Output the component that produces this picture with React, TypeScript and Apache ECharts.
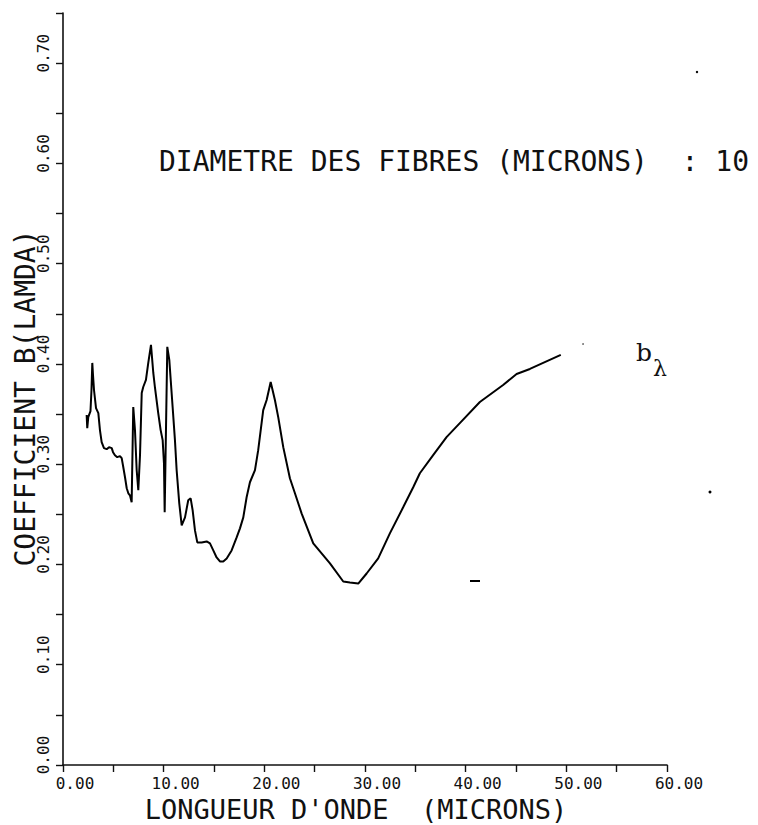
import React, { useEffect, useRef } from "react";
import * as echarts from "echarts";

// Wavelength (microns)
const waveLength = [
  2.35, 2.41, 2.51, 2.73, 2.83, 2.91, 2.98, 3.08, 3.28, 3.51, 3.67, 3.84, 4.07, 4.34, 4.57, 4.84,
  4.97, 5.16, 5.39, 5.66, 5.83, 5.99, 6.16, 6.33, 6.49, 6.65, 6.82, 6.98, 7.15, 7.32, 7.48, 7.65,
  7.82, 7.97, 8.24, 8.47, 8.74, 8.97, 9.14, 9.46, 9.7, 9.9, 10.03, 10.1, 10.36, 10.56, 10.7, 10.89,
  11.12, 11.29, 11.55, 11.79, 12.12, 12.44, 12.68, 12.88, 13.11, 13.34, 13.77, 14.27, 14.6, 14.93,
  15.26, 15.59, 15.92, 16.26, 16.75, 17.25, 17.58, 17.91, 18.24, 18.57, 19.07, 19.39, 19.89, 20.23,
  20.63, 21.05, 21.38, 21.88, 22.54, 23.04, 23.7, 24.86, 26.52, 27.84, 28.5, 29.33, 30.16, 31.31,
  32.47, 33.79, 34.79, 35.45, 36.77, 38.1, 39.42, 41.41, 43.72, 45.06, 46.38, 49.45,
];
// Coefficient b(lambda)
const coefficient = [
  0.349, 0.336, 0.347, 0.353, 0.374, 0.401, 0.389, 0.374, 0.356, 0.351, 0.334, 0.322, 0.316, 0.315,
  0.317, 0.316, 0.312, 0.309, 0.307, 0.308, 0.306, 0.297, 0.287, 0.276, 0.271, 0.269, 0.262, 0.357,
  0.334, 0.294, 0.274, 0.309, 0.371, 0.377, 0.384, 0.401, 0.419, 0.391, 0.376, 0.351, 0.334, 0.324,
  0.301, 0.252, 0.417, 0.404, 0.384, 0.357, 0.324, 0.294, 0.261, 0.239, 0.247, 0.264, 0.266, 0.254,
  0.234, 0.222, 0.222, 0.223, 0.221, 0.214, 0.207, 0.203, 0.203, 0.206, 0.214, 0.227, 0.236, 0.247,
  0.267, 0.282, 0.294, 0.314, 0.354, 0.364, 0.382, 0.364, 0.347, 0.317, 0.286, 0.271, 0.251, 0.221,
  0.201, 0.183, 0.182, 0.181, 0.191, 0.206, 0.231, 0.257, 0.277, 0.291, 0.309, 0.327, 0.341, 0.362,
  0.379, 0.39, 0.395, 0.409,
];

const xRange = [0, 60];
const xTickStep = 5;
const xLabelStep = 10;
const yRange = [0, 0.75];
const yTickStep = 0.05;
const yLabelStep = 0.1;

const chartTitle = "DIAMETRE DES FIBRES (MICRONS)  : 10";
const xAxisName = "LONGUEUR D'ONDE  (MICRONS)";
const yAxisName = "COEFFICIENT B(LAMDA)";
const seriesLabel = "b";
const seriesSub = "λ";

const MONO = "'DejaVu Sans Mono', monospace";
const INK = "#111";

export default function App() {
  const ref = useRef<HTMLDivElement>(null);
  useEffect(() => {
    if (!ref.current) return;
    const chart = echarts.init(ref.current, null, { renderer: "svg" });
    const data = waveLength.map((x, i) => [x, coefficient[i]]);
    const isMultiple = (v: number, step: number) => {
      const r = v / step;
      return Math.abs(r - Math.round(r)) < 1e-6;
    };
    chart.setOption({
      animation: false,
      backgroundColor: "#fff",
      title: {
        text: chartTitle,
        left: 154,
        top: 142,
        textStyle: { fontFamily: MONO, fontSize: 28, fontWeight: "normal", color: INK },
      },
      grid: { left: 63, right: 91, top: 13, bottom: 60, containLabel: false, outerBoundsMode: "none" },
      xAxis: {
        type: "value",
        min: xRange[0],
        max: xRange[1],
        interval: xTickStep,
        splitLine: { show: false },
        axisLine: { show: true, onZero: false, lineStyle: { color: INK, width: 1.6 } },
        axisTick: { show: true, inside: false, length: 7, lineStyle: { color: INK, width: 1.4 } },
        axisLabel: {
          margin: 11,
          fontFamily: MONO,
          fontSize: 16,
          lineHeight: 14,
          color: INK,
          padding: [0, 0, 0, 24],
          formatter: (v: number) => (isMultiple(v, xLabelStep) ? v.toFixed(2) : ""),
        },
      },
      yAxis: {
        type: "value",
        min: yRange[0],
        max: yRange[1],
        interval: yTickStep,
        splitLine: { show: false },
        axisLine: { show: true, onZero: false, lineStyle: { color: INK, width: 1.6 } },
        axisTick: { show: true, inside: false, length: 7, lineStyle: { color: INK, width: 1.4 } },
        axisLabel: {
          rotate: 90,
          margin: 12,
          fontFamily: MONO,
          fontSize: 16,
          color: INK,
          padding: [0, 0, 0, 20],
          showMaxLabel: true,
          formatter: (v: number) => (isMultiple(v, yLabelStep) ? v.toFixed(2) : ""),
        },
      },
      series: [
        {
          type: "line",
          data,
          symbol: "none",
          smooth: false,
          lineStyle: { color: "#000", width: 2 },
        },
      ],
      graphic: [
        {
          type: "text",
          x: 356,
          y: 809,
          style: {
            text: xAxisName,
            fontFamily: MONO,
            fontSize: 27,
            lineHeight: 24,
            fill: INK,
            align: "center",
            verticalAlign: "middle",
          },
        },
        {
          type: "text",
          x: 25,
          y: 398,
          rotation: Math.PI / 2,
          style: { text: yAxisName, fontFamily: MONO, fontSize: 28, fill: INK, align: "center", verticalAlign: "middle" },
        },
        {
          type: "text",
          x: 636,
          y: 340,
          style: { text: seriesLabel, fontFamily: "'DejaVu Serif', serif", fontSize: 25, fill: INK },
        },
        {
          type: "text",
          x: 653,
          y: 357,
          style: { text: seriesSub, fontFamily: "'DejaVu Serif', serif", fontSize: 22, fill: INK },
        },
        { type: "rect", shape: { x: 470, y: 580, width: 10, height: 2 }, style: { fill: "#000" } },
        { type: "circle", shape: { cx: 697, cy: 72, r: 1.2 }, style: { fill: "#000" } },
        { type: "circle", shape: { cx: 710, cy: 492, r: 1.5 }, style: { fill: "#000" } },
        { type: "circle", shape: { cx: 583, cy: 344, r: 0.8 }, style: { fill: "#555" } },
      ],
    });
    return () => chart.dispose();
  }, []);
  return (
    <div
      ref={ref}
      style={{ position: "fixed", left: 0, top: 0, width: 758, height: 825, background: "#fff" }}
    />
  );
}
